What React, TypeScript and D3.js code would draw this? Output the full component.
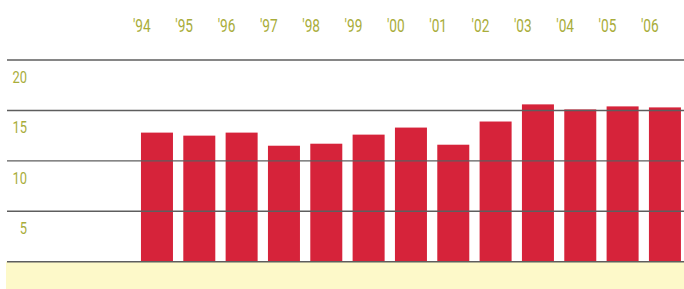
import * as d3 from 'd3';

const years = ["'94", "'95", "'96", "'97", "'98", "'99", "'00", "'01", "'02", "'03", "'04", "'05", "'06"];
const values = [12.8, 12.5, 12.8, 11.5, 11.7, 12.6, 13.3, 11.6, 13.9, 15.6, 15.1, 15.4, 15.3];
const yTicks = [0, 5, 10, 15, 20];

const W = 684;
const H = 289;
const FONT = 'Roboto, "Liberation Sans", sans-serif';
const LABEL = '#a9ad3a';

export default function App() {
  const x = d3.scaleBand<string>()
    .domain(years)
    .range([135.8, 686.1])
    .paddingInner(0.244)
    .paddingOuter(0.122);

  const y = d3.scaleLinear().domain([0, 20]).range([261.7, 60]);

  return (
    <svg width={W} height={H} style={{ position: 'absolute', left: 0, top: 0, background: '#fff' }}>
      {/* pale band under the baseline */}
      <rect x={6} y={y(0)} width={W - 6} height={H - y(0)} fill="#fdf9c9" />

      {values.map((v, i) => (
        <rect
          key={years[i]}
          x={x(years[i])}
          y={y(v)}
          width={x.bandwidth()}
          height={y(0) - y(v)}
          fill="#d6233a"
        />
      ))}

      {yTicks.map(t => (
        <line key={t} x1={7} x2={W} y1={y(t)} y2={y(t)} stroke="#5e5e5e" strokeWidth={1.4} />
      ))}

      {/* condensed look: squeeze the text horizontally */}
      {yTicks.filter(t => t > 0).map(t => (
        <g key={t} transform={`translate(27,${y(t) + 23}) scale(0.76,1)`}>
          <text textAnchor="end" fontFamily={FONT} fontSize={17} fill={LABEL}>
            {t}
          </text>
        </g>
      ))}

      {years.map(yr => (
        <g key={yr} transform={`translate(${(x(yr) ?? 0) - 8},32) scale(0.76,1)`}>
          <text fontFamily={FONT} fontSize={18} fill={LABEL}>
            {yr}
          </text>
        </g>
      ))}
    </svg>
  );
}
